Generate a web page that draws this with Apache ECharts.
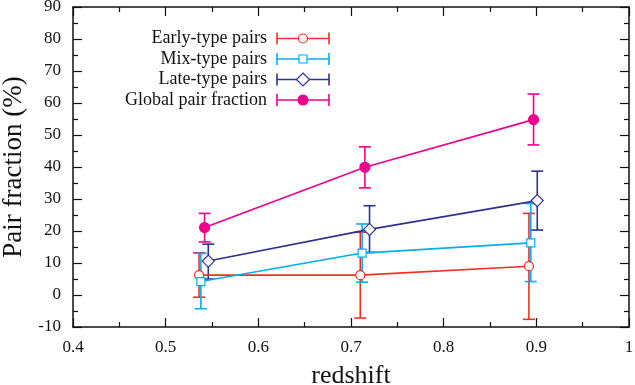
<!DOCTYPE html>
<html><head><meta charset="utf-8">
<script src="https://cdn.jsdelivr.net/npm/echarts@6/dist/echarts.min.js"></script>
<style>html,body{margin:0;padding:0;background:#fff}#c{width:635px;height:385px}</style>
</head><body><div id="c"></div>
<script>
const seriesNames = ['Early-type pairs', 'Mix-type pairs', 'Late-type pairs', 'Global pair fraction'];
const earlyX = [0.536, 0.710, 0.892];
const earlyY = [6.2, 6.2, 9.0];
const earlyLo = [-0.7, -7.2, -7.6];
const earlyHi = [13.2, 19.6, 25.5];
const mixX = [0.538, 0.712, 0.894];
const mixY = [4.2, 13.1, 16.3];
const mixLo = [-4.3, 4.0, 4.2];
const mixHi = [13.0, 22.2, 28.6];
const lateX = [0.546, 0.720, 0.901];
const lateY = [10.6, 20.5, 29.5];
const lateLo = [5.0, 13.3, 20.3];
const lateHi = [15.9, 27.9, 38.7];
const globalX = [0.542, 0.715, 0.897];
const globalY = [21.1, 39.9, 54.8];
const globalLo = [16.6, 33.5, 46.9];
const globalHi = [25.5, 46.3, 62.8];
const xTicks = [0.4, 0.5, 0.6, 0.7, 0.8, 0.9, 1];
const yTicks = [-10, 0, 10, 20, 30, 40, 50, 60, 70, 80, 90];

const colors = ['#ee3124', '#00aeef', '#2e3192', '#ec008c'];
const font = 'Liberation Serif, Times New Roman, serif';
const sets = [
  {x: earlyX, y: earlyY, lo: earlyLo, hi: earlyHi, symbol: 'circle', size: 9, fill: '#fff'},
  {x: mixX, y: mixY, lo: mixLo, hi: mixHi, symbol: 'rect', size: 8, fill: '#fff'},
  {x: lateX, y: lateY, lo: lateLo, hi: lateHi, symbol: 'diamond', size: 12, fill: '#fff'},
  {x: globalX, y: globalY, lo: globalLo, hi: globalHi, symbol: 'circle', size: 10, fill: null}
];

const chart = echarts.init(document.getElementById('c'), null, {renderer: 'canvas'});
const series = [];
sets.forEach((s, i) => {
  const col = colors[i];
  series.push({
    type: 'custom', name: seriesNames[i] + ' err', xAxisIndex: 0, yAxisIndex: 0,
    data: s.x.map((x, k) => [x, s.lo[k], s.hi[k]]),
    renderItem: function (params, api) {
      const p1 = api.coord([api.value(0), api.value(1)]);
      const p2 = api.coord([api.value(0), api.value(2)]);
      const w = 6;
      const st = {stroke: col, lineWidth: 1.6};
      return {type: 'group', children: [
        {type: 'line', shape: {x1: p1[0], y1: p1[1], x2: p2[0], y2: p2[1]}, style: st},
        {type: 'line', shape: {x1: p1[0] - w, y1: p1[1], x2: p1[0] + w, y2: p1[1]}, style: st},
        {type: 'line', shape: {x1: p2[0] - w, y1: p2[1], x2: p2[0] + w, y2: p2[1]}, style: st}
      ]};
    },
    z: 2, silent: true
  });
  series.push({
    type: 'line', name: seriesNames[i],
    data: s.x.map((x, k) => [x, s.y[k]]),
    symbol: s.symbol, symbolSize: s.size, showSymbol: true,
    lineStyle: {color: col, width: 1.6},
    itemStyle: {color: s.fill === null ? col : s.fill, borderColor: col, borderWidth: 1.2},
    z: 3, silent: true, animation: false
  });
});

// legend drawn as graphic elements
const legendTextRight = 267;
const legendY0 = 38.5, legendDy = 20.5;
const sampleX1 = 277, sampleX2 = 329, sampleMid = 303;
const graphics = [];
sets.forEach((s, i) => {
  const col = colors[i];
  const y = legendY0 + i * legendDy;
  graphics.push({type: 'text', x: legendTextRight, y: y, style: {text: seriesNames[i], font: '18px ' + font, fill: '#111', align: 'right', verticalAlign: 'middle'}});
  graphics.push({type: 'line', shape: {x1: sampleX1, y1: y, x2: sampleX2, y2: y}, style: {stroke: col, lineWidth: 1.6}});
  graphics.push({type: 'line', shape: {x1: sampleX1, y1: y - 6, x2: sampleX1, y2: y + 6}, style: {stroke: col, lineWidth: 1.6}});
  graphics.push({type: 'line', shape: {x1: sampleX2, y1: y - 6, x2: sampleX2, y2: y + 6}, style: {stroke: col, lineWidth: 1.6}});
  const fill = s.fill === null ? col : s.fill;
  let shape;
  if (i === 0) shape = {type: 'circle', shape: {cx: sampleMid, cy: y, r: 4.5}};
  else if (i === 1) shape = {type: 'rect', shape: {x: sampleMid - 4, y: y - 4, width: 8, height: 8}};
  else if (i === 2) shape = {type: 'polygon', shape: {points: [[sampleMid, y - 6.5], [sampleMid + 6.5, y], [sampleMid, y + 6.5], [sampleMid - 6.5, y]]}};
  else shape = {type: 'circle', shape: {cx: sampleMid, cy: y, r: 5}};
  shape.style = {fill: fill, stroke: col, lineWidth: 1.2};
  graphics.push(shape);
});

const axisCommon = {
  axisLine: {show: true, onZero: false, lineStyle: {color: '#111', width: 1.5}},
  axisTick: {show: true, inside: true, length: 9, lineStyle: {color: '#111', width: 1.2}},
  minorTick: {show: true, splitNumber: 2, length: 5, lineStyle: {color: '#111', width: 1.2}},
  splitLine: {show: false}
};

chart.setOption({
  animation: false,
  backgroundColor: '#fff',
  grid: {left: 73, right: 6, top: 7, bottom: 58, containLabel: false, outerBoundsMode: 'none'},
  xAxis: [
    Object.assign({type: 'value', min: xTicks[0], max: xTicks[xTicks.length - 1], interval: 0.1, position: 'bottom',
      name: 'redshift', nameLocation: 'middle', nameGap: 36,
      nameTextStyle: {fontFamily: font, fontSize: 26, color: '#111'},
      axisLabel: {fontFamily: font, fontSize: 17, color: '#111', margin: 12,
        formatter: v => String(Math.round(v * 10) / 10)}}, axisCommon),
    Object.assign({type: 'value', min: xTicks[0], max: xTicks[xTicks.length - 1], interval: 0.1, position: 'top',
      axisLabel: {show: false}}, axisCommon)
  ],
  yAxis: [
    Object.assign({type: 'value', min: yTicks[0], max: yTicks[yTicks.length - 1], interval: 10, position: 'left',
      name: 'Pair fraction (%)', nameLocation: 'middle', nameGap: 44,
      nameTextStyle: {fontFamily: font, fontSize: 27, color: '#111'},
      axisLabel: {fontFamily: font, fontSize: 17, color: '#111', margin: 12}}, axisCommon),
    Object.assign({type: 'value', min: yTicks[0], max: yTicks[yTicks.length - 1], interval: 10, position: 'right',
      axisLabel: {show: false}}, axisCommon)
  ],
  series: series,
  graphic: graphics
});
</script>
</body></html>
